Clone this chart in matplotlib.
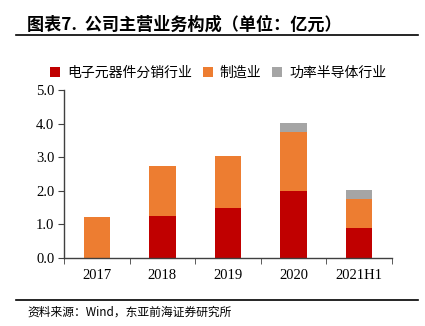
import matplotlib
matplotlib.use("Agg")
import matplotlib.pyplot as plt
import numpy as np

plt.rcParams['font.family'] = ['Noto Sans CJK SC', 'DejaVu Sans']

# data (亿元)
categories = ['2017', '2018', '2019', '2020', '2021H1']
distribution = [0.0, 1.25, 1.48, 2.00, 0.88]     # 电子元器件分销行业
manufacturing = [1.22, 1.49, 1.56, 1.74, 0.87]   # 制造业
power_semi = [0.0, 0.0, 0.0, 0.28, 0.27]         # 功率半导体行业
series_names = ['电子元器件分销行业', '制造业', '功率半导体行业']
colors = ['#C00000', '#ED7D31', '#A5A5A5']

fig = plt.figure(figsize=(4.25, 3.26), dpi=100)
ax = fig.add_axes([64 / 425, 1 - 258 / 326, (392 - 64) / 425, (258 - 90) / 326])

x = np.arange(len(categories))
w = 0.4
bottom = np.zeros(len(categories))
for vals, name, c in zip([distribution, manufacturing, power_semi], series_names, colors):
    ax.bar(x, vals, w, bottom=bottom, color=c, label=name, zorder=2)
    bottom += np.array(vals)

ax.set_xlim(-0.5, len(categories) - 0.5)
ax.set_ylim(0, 5)
ax.set_yticks(np.arange(0, 5.1, 1.0))
ax.set_yticklabels([f'{v:.1f}' for v in np.arange(0, 5.1, 1.0)],
                   family='Liberation Serif', fontsize=10.5)
ax.set_xticks(x)
ax.set_xticklabels(categories, family='Liberation Serif', fontsize=10.5)
ax.set_xticks(np.arange(-0.5, len(categories), 1.0), minor=True)
ax.tick_params(axis='x', which='major', length=0, pad=8)
ax.tick_params(axis='x', which='minor', length=4, color='#404040')
ax.tick_params(axis='y', length=4, color='#404040', pad=3)
for s in ['top', 'right']:
    ax.spines[s].set_visible(False)
for s in ['left', 'bottom']:
    ax.spines[s].set_color('#404040')
    ax.spines[s].set_linewidth(1.0)

ax.legend(loc='upper center', bbox_to_anchor=(0.47, 1 + 30 / 168), ncol=3, frameon=False,
          fontsize=10, handlelength=0.7, handleheight=0.7, handletextpad=0.5,
          columnspacing=0.8, borderaxespad=0)

# title and source
fig.text(27 / 425, 1 - 25 / 326, '图表7.  公司主营业务构成（单位：亿元）',
         fontsize=12.3, fontweight='bold', va='center', ha='left')
fig.add_artist(plt.Line2D([16 / 425, 418 / 425], [1 - 35 / 326] * 2, color='black', lw=1.2))
fig.add_artist(plt.Line2D([16 / 425, 418 / 425], [1 - 300 / 326] * 2, color='black', lw=1.2))
fig.text(27 / 425, 1 - 312 / 326, '资料来源：Wind，东亚前海证券研究所',
         fontsize=8.5, va='center', ha='left')

fig.savefig('out.png', dpi=100)
